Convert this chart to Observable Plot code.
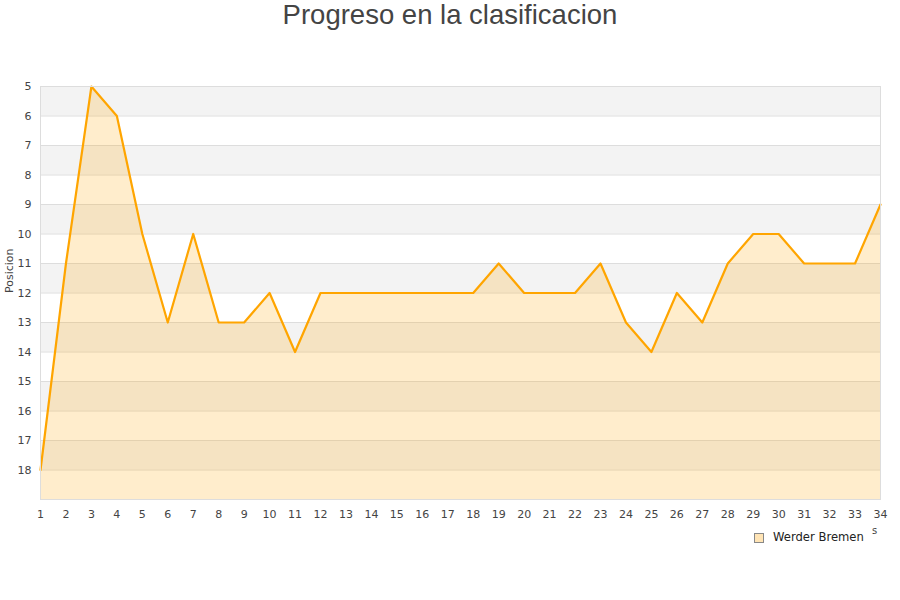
<!DOCTYPE html>
<html>
<head>
<meta charset="utf-8">
<script src="https://cdn.jsdelivr.net/npm/d3@7"></script>
<script src="https://cdn.jsdelivr.net/npm/@observablehq/plot@0.6"></script>
<style>
  body { margin: 0; background: #fff; width: 900px; height: 600px; overflow: hidden; }
  #title { height: 30px; line-height: 30px; text-align: center; font-family: "Liberation Sans", Arial, sans-serif; font-size: 27.5px; color: #444; }
  #legend { position: relative; height: 40px; font-family: "DejaVu Sans", sans-serif; font-size: 11.6px; color: #222; }
  #legend .sw { position: absolute; left: 754px; top: 8px; width: 8px; height: 8px; background: #ffe4b5; border: 1px solid #888; }
  #legend .lb { position: absolute; left: 773px; top: 5px; }
  #legend .s { position: absolute; left: 872px; top: 0px; font-size: 10px; color: #444; }
</style>
</head>
<body>
<div id="title">Progreso en la clasificacion</div>
<div id="chart"></div>
<div id="legend"><span class="sw"></span><span class="lb">Werder Bremen</span><span class="s">s</span></div>
<script>
const jornadas = d3.range(1, 35);
const posiciones = [18, 11, 5, 6, 10, 13, 10, 13, 13, 12, 14, 12, 12, 12, 12, 12, 12, 12, 11, 12, 12, 12, 11, 13, 14, 12, 13, 11, 10, 10, 11, 11, 11, 9];
const yTicks = d3.range(5, 19);
const yTop = 5, yBottom = 19;
const bandStarts = [5, 7, 9, 11, 13, 15, 17];
const gridLines = d3.range(5, 20);
const serie = "Werder Bremen";

const data = jornadas.map((j, i) => ({jornada: j, pos: posiciones[i]}));
const bands = bandStarts.map(b => ({y1: b, y2: b + 1}));

const chart = Plot.plot({
  width: 900,
  height: 495,
  marginTop: 56,
  marginBottom: 26,
  marginLeft: 40,
  marginRight: 20,
  style: {fontFamily: "DejaVu Sans, sans-serif", fontSize: "11px", color: "#444", background: "#fff"},
  x: {domain: [1, 34], ticks: jornadas, tickFormat: d => String(d), tickSize: 0, tickPadding: 11, label: null},
  y: {domain: [yTop, yBottom], reverse: true, ticks: yTicks, tickFormat: d => String(d), tickSize: 0, tickPadding: 9, label: null},
  marks: [
    Plot.rect(bands, {x1: () => 1, x2: () => 34, y1: "y1", y2: "y2", fill: "#f3f3f3"}),
    Plot.ruleY(gridLines, {stroke: "#dddddd", strokeWidth: 1}),
    Plot.areaY(data, {x: "jornada", y1: "pos", y2: () => yBottom, fill: "#ffa500", fillOpacity: 0.2}),
    Plot.lineY(data, {x: "jornada", y: "pos", stroke: "#ffa500", strokeWidth: 2.2}),
    Plot.frame({stroke: "#dddddd"}),
    Plot.axisX({ticks: jornadas, tickSize: 0, tickPadding: 11, tickFormat: d => String(d), label: null}),
    Plot.axisY({ticks: yTicks, tickSize: 0, tickPadding: 9, tickFormat: d => String(d), label: null}),
    Plot.text(["Posicion"], {frameAnchor: "left", dx: -31, rotate: -90, fill: "#444", fontSize: 11})
  ]
});
document.getElementById("chart").appendChild(chart);
</script>
</body>
</html>
